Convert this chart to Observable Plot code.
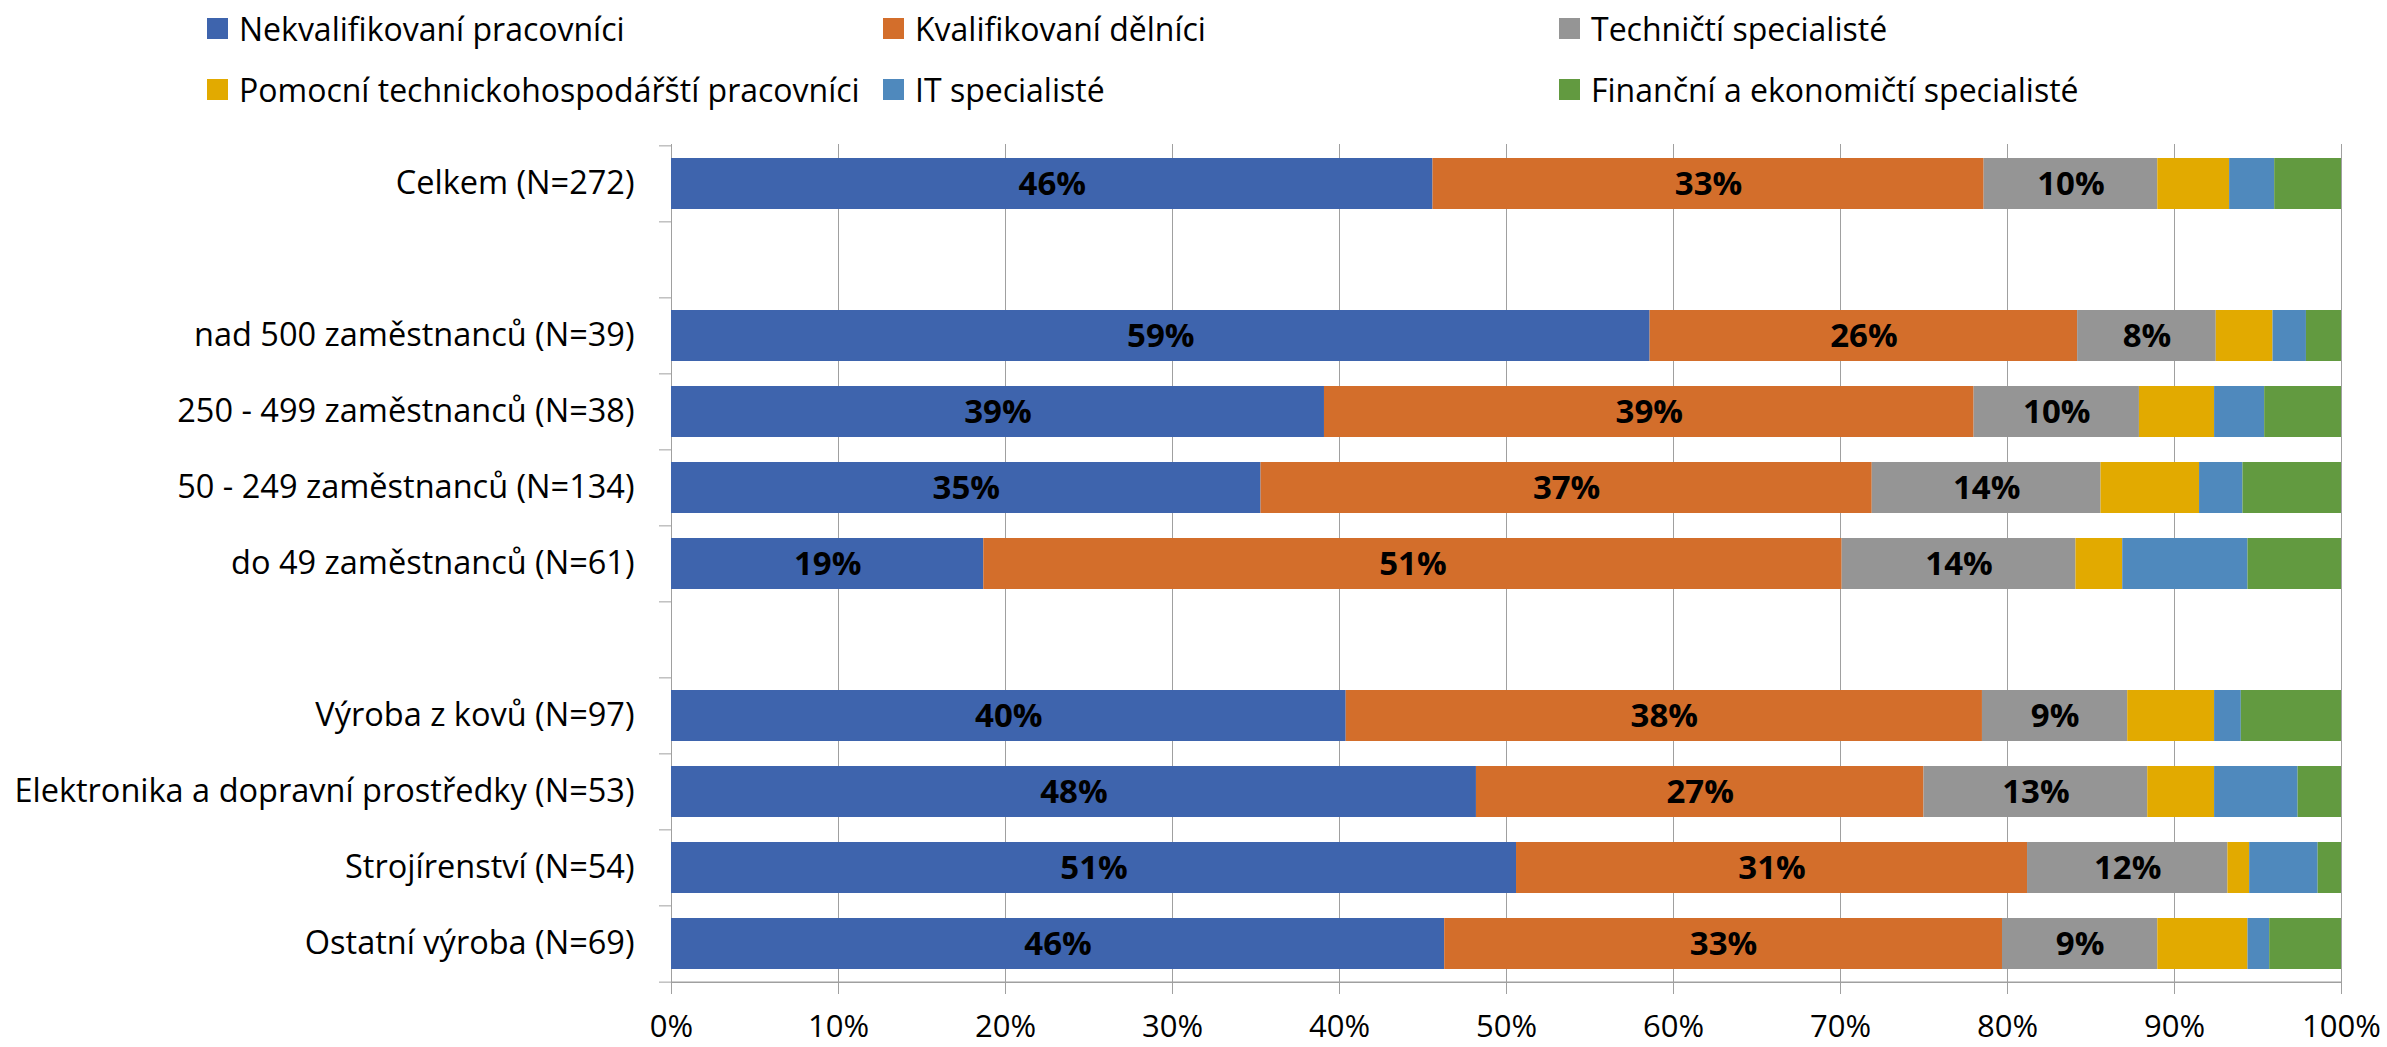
<!DOCTYPE html>
<html>
<head>
<meta charset="utf-8">
<script src="https://cdn.jsdelivr.net/npm/d3@7"></script>
<script src="https://cdn.jsdelivr.net/npm/@observablehq/plot@0.6"></script>
<style>
  body { margin: 0; background: #fff; font-family: "Open Sans", sans-serif; }
  #legend { position: relative; width: 2387px; height: 120px; }
  .item { position: absolute; height: 40px; display: flex; align-items: center; font-size: 32px; color: #000; white-space: nowrap; }
  .sw { width: 21px; height: 21px; margin-right: 11px; flex: none; }
</style>
</head>
<body>
<div id="legend"></div>
<div id="chart"></div>
<script>
// Occupation groups (stack order, left to right)
const series = [
  "Nekvalifikovaní pracovníci",
  "Kvalifikovaní dělníci",
  "Techničtí specialisté",
  "Pomocní technickohospodářští pracovníci",
  "IT specialisté",
  "Finanční a ekonomičtí specialisté"
];

// Respondent groups, top to bottom
const groups = [
  "Celkem (N=272)",
  "nad 500 zaměstnanců (N=39)",
  "250 - 499 zaměstnanců (N=38)",
  "50 - 249 zaměstnanců (N=134)",
  "do 49 zaměstnanců (N=61)",
  "Výroba z kovů (N=97)",
  "Elektronika a dopravní prostředky (N=53)",
  "Strojírenství (N=54)",
  "Ostatní výroba (N=69)"
];

// Shares in % per group, one array per occupation
const nekvalifikovani = [45.6, 58.6, 39.1, 35.3, 18.7, 40.4, 48.2, 50.6, 46.3];
const kvalifikovani   = [33.0, 25.6, 38.9, 36.6, 51.4, 38.1, 26.8, 30.6, 33.4];
const technicti       = [10.4,  8.3,  9.9, 13.7, 14.0,  8.7, 13.4, 12.0,  9.3];
const pomocni         = [ 4.3,  3.4,  4.5,  5.9,  2.8,  5.2,  4.0,  1.3,  5.4];
const itSpecialiste   = [ 2.7,  2.0,  3.0,  2.6,  7.5,  1.6,  5.0,  4.1,  1.3];
const financni        = [ 4.0,  2.1,  4.6,  5.9,  5.6,  6.0,  2.6,  1.4,  4.3];

// Axis ticks
const xTicks = [0, 10, 20, 30, 40, 50, 60, 70, 80, 90, 100];

// Row layout: blank rows separate the total, size classes and industries
const rows = [groups[0], " ", groups[1], groups[2], groups[3], groups[4], "  ", groups[5], groups[6], groups[7], groups[8]];

const colors = ["#3E64AD", "#D36E2B", "#959595", "#E2AA00", "#4F89BD", "#629A40"];
const gridColor = "#a0a0a0";
const font = "'Open Sans', sans-serif";

const valueArrays = [nekvalifikovani, kvalifikovani, technicti, pomocni, itSpecialiste, financni];
const data = [];
groups.forEach((g, gi) => {
  series.forEach((s, si) => {
    data.push({group: g, series: s, si, value: valueArrays[si][gi]});
  });
});

// Legend (two rows of three)
const legend = document.getElementById("legend");
const colLeft = [207, 883, 1559];
const rowTop = [8, 69];
series.forEach((s, i) => {
  const item = document.createElement("div");
  item.className = "item";
  item.style.left = colLeft[i % 3] + "px";
  item.style.top = rowTop[Math.floor(i / 3)] + "px";
  const sw = document.createElement("span");
  sw.className = "sw";
  sw.style.background = colors[i];
  const label = document.createElement("span");
  label.textContent = s;
  item.append(sw, label);
  legend.append(item);
});

const W = 2387, H = 927;
const mTop = 24, mBottom = 64, mLeft = 671, mRight = 46;
const step = (H - mTop - mBottom) / rows.length;

const chart = Plot.plot({
  width: W,
  height: H,
  marginTop: mTop,
  marginBottom: mBottom,
  marginLeft: mLeft,
  marginRight: mRight,
  style: {fontFamily: font, fontSize: "32px", background: "#fff", color: "#000"},
  x: {domain: [0, 100], ticks: xTicks, tickFormat: d => d + "%", label: null},
  y: {domain: rows, paddingInner: 0.324, paddingOuter: 0.162, label: null},
  color: {domain: series, range: colors},
  marks: [
    Plot.gridX(xTicks, {stroke: gridColor, strokeOpacity: 1, strokeWidth: 1}),
    Plot.barX(data, {x: "value", y: "group", fill: "series", order: series}),
    Plot.textX(data, Plot.stackX({
      x: "value", y: "group", z: "series", order: series,
      text: d => d.si < 3 ? Math.round(d.value) + "%" : "",
      fill: "#000", fontWeight: "bold", fontSize: 33
    })),
    // bottom axis line
    Plot.ruleY([rows[rows.length - 1]], {dy: step / 2, stroke: gridColor, strokeWidth: 1.5}),
    // category boundary ticks on the vertical axis
    Plot.axisY({text: null, label: null, tickSize: 12, dy: -step / 2, stroke: gridColor, strokeOpacity: 1}),
    Plot.axisY({ticks: [rows[rows.length - 1]], text: null, label: null, tickSize: 12, dy: step / 2, stroke: gridColor, strokeOpacity: 1}),
    Plot.axisY({tickSize: 0, tickPadding: 37, fontSize: 32.5, label: null, fill: "#000"}),
    Plot.axisX({ticks: xTicks, tickSize: 11, tickPadding: 20, fontSize: 31, label: null, stroke: gridColor, strokeOpacity: 1, fill: "#000", tickFormat: d => d + "%"})
  ]
});
document.getElementById("chart").append(chart);
</script>
</body>
</html>
